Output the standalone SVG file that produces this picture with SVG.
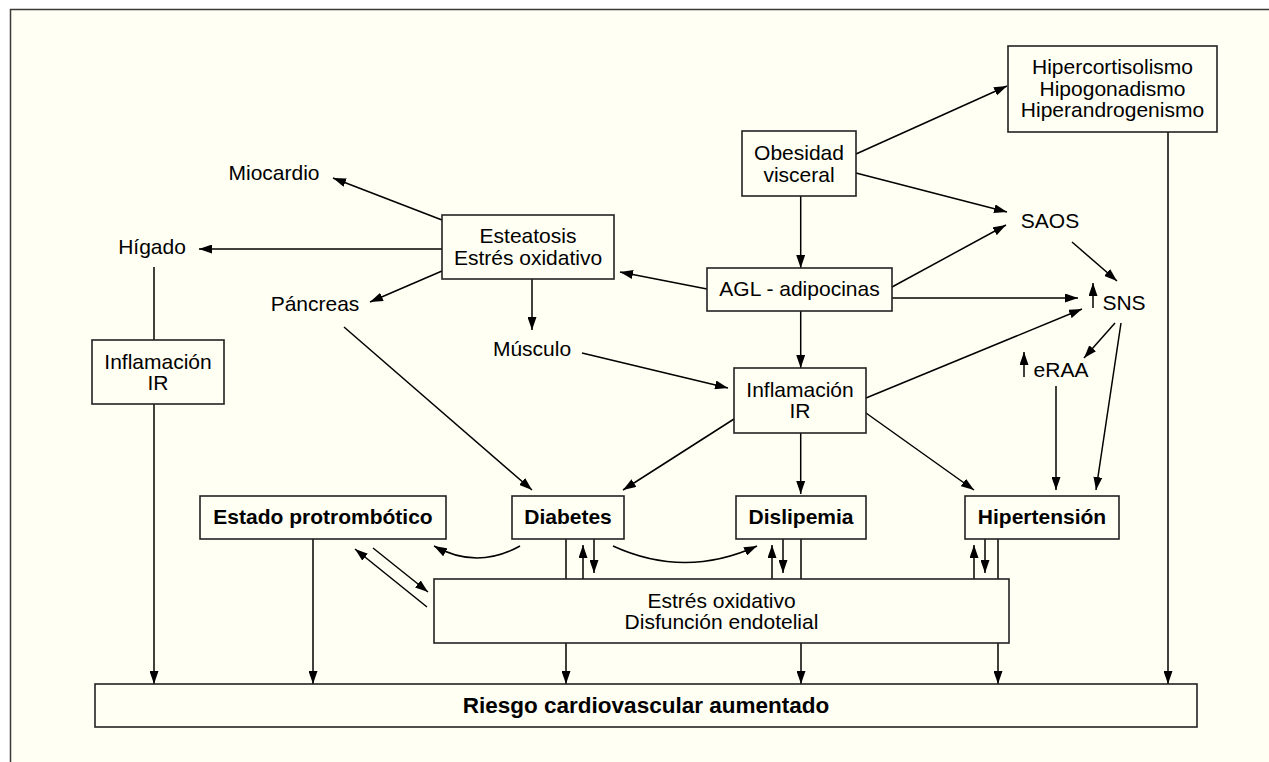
<svg xmlns="http://www.w3.org/2000/svg" width="1269" height="762" viewBox="0 0 1269 762">
<defs>
<marker id="ah" viewBox="0 0 13 9" refX="13" refY="4.5" markerWidth="13" markerHeight="9" orient="auto" markerUnits="userSpaceOnUse"><path d="M0,0 L13,4.5 L0,9 z" fill="#000"/></marker>
<style>
.t{font-family:"Liberation Sans",Arial,Helvetica,sans-serif;font-size:21px;fill:#000;text-anchor:middle}
.b{font-weight:bold}
.bx{fill:none;stroke:#222;stroke-width:1.6}
.c{fill:none;stroke:#000;stroke-width:1.5}
.a{marker-end:url(#ah)}
</style>
</defs>
<rect x="0" y="0" width="1269" height="762" fill="#fff"/>
<rect x="10.5" y="9.5" width="1300" height="800" fill="#FFFFF3" stroke="#3a3a3a" stroke-width="1.5"/>

<g id="connectors">
<path class="c a" d="M800.7,196 V268"/>
<path class="c a" d="M800.7,311 V368"/>
<path class="c a" d="M800.7,433 V494"/>
<path class="c a" d="M856,154 L1007,86"/>
<path class="c a" d="M856,173 L1007,212"/>
<path class="c a" d="M892,287 L1006,225"/>
<path class="c a" d="M892,298 L1078,298"/>
<path class="c a" d="M1072,242 L1117,281"/>
<path class="c a" d="M866,398 L1082,309"/>
<path class="c a" d="M1115,323 L1084,358"/>
<path class="c a" d="M1121,323 L1096,490"/>
<path class="c a" d="M1056,386 V490"/>
<path class="c a" d="M866,413 L974,490"/>
<path class="c a" d="M734,419 L623,490"/>
<path class="c a" d="M344,327 L532,490"/>
<path class="c a" d="M582,353 L728,388"/>
<path class="c a" d="M532,279 V330"/>
<path class="c a" d="M707,289 L620,272"/>
<path class="c a" d="M442,220 L333,178"/>
<path class="c a" d="M442,249 H199"/>
<path class="c a" d="M442,271 L370,302"/>
<path class="c" d="M154,267 V340"/>
<path class="c a" d="M154,404 V684"/>
<path class="c a" d="M313,539 V684"/>
<path class="c a" d="M1168,132 V684"/>
<path class="c" d="M566,539 V579"/>
<path class="c a" d="M566,643 V684"/>
<path class="c a" d="M583,579 V545"/>
<path class="c a" d="M594,539 V573"/>
<path class="c" d="M801,539 V579"/>
<path class="c a" d="M801,643 V684"/>
<path class="c a" d="M772,579 V545"/>
<path class="c a" d="M783,539 V573"/>
<path class="c" d="M998,539 V579"/>
<path class="c a" d="M998,643 V684"/>
<path class="c a" d="M974,579 V545"/>
<path class="c a" d="M985,539 V573"/>
<path class="c a" d="M520,546 Q477,570 434,546"/>
<path class="c a" d="M613,546 Q685,579 757,546"/>
<path class="c a" d="M427,607 L355,549"/>
<path class="c a" d="M373,548 L428,592"/>
</g>

<g id="obesidad"><rect class="bx" x="742" y="131" width="114" height="65"/><text class="t" x="799" y="160">Obesidad</text><text class="t" x="799" y="182">visceral</text></g>
<g id="hiper"><rect class="bx" x="1008" y="46" width="209" height="86"/><text class="t" x="1112.5" y="74">Hipercortisolismo</text><text class="t" x="1112.5" y="95.5">Hipogonadismo</text><text class="t" x="1112.5" y="117">Hiperandrogenismo</text></g>
<g id="esteatosis"><rect class="bx" x="442" y="215" width="172" height="64"/><text class="t" x="528" y="243">Esteatosis</text><text class="t" x="528" y="265">Estrés oxidativo</text></g>
<g id="agl"><rect class="bx" x="707" y="268" width="185" height="43"/><text class="t" x="799.5" y="296">AGL - adipocinas</text></g>
<g id="inflamacion"><rect class="bx" x="734" y="368" width="132" height="65"/><text class="t" x="800" y="397">Inflamación</text><text class="t" x="800" y="418">IR</text></g>
<g id="inflamacion-higado"><rect class="bx" x="92" y="340" width="132" height="64"/><text class="t" x="158" y="369">Inflamación</text><text class="t" x="158" y="390">IR</text></g>
<g id="miocardio"><text class="t" x="274" y="180">Miocardio</text></g>
<g id="higado"><text class="t" x="152" y="254">Hígado</text></g>
<g id="pancreas"><text class="t" x="315" y="311">Páncreas</text></g>
<g id="musculo"><text class="t" x="532" y="356">Músculo</text></g>
<g id="saos"><text class="t" x="1050" y="228">SAOS</text></g>
<g id="sns"><path class="c a" d="M1093,308 V283"/><text class="t" x="1124" y="310">SNS</text></g>
<g id="eraa"><path class="c a" d="M1024,377 V352"/><text class="t" x="1061" y="377">eRAA</text></g>
<g id="protrombotico"><rect class="bx" x="200" y="496" width="246" height="43"/><text class="t b" x="323" y="524">Estado protrombótico</text></g>
<g id="diabetes"><rect class="bx" x="512" y="496" width="112" height="43"/><text class="t b" x="568" y="524">Diabetes</text></g>
<g id="dislipemia"><rect class="bx" x="736" y="496" width="130" height="43"/><text class="t b" x="801" y="524">Dislipemia</text></g>
<g id="hipertension"><rect class="bx" x="965" y="496" width="154" height="43"/><text class="t b" x="1042" y="524">Hipertensión</text></g>
<g id="estres"><rect class="bx" x="434" y="579" width="575" height="64"/><text class="t" x="721.5" y="608">Estrés oxidativo</text><text class="t" x="721.5" y="629">Disfunción endotelial</text></g>
<g id="riesgo"><rect class="bx" x="95" y="684" width="1102" height="43"/><text class="t b" x="646" y="713" style="font-size:22.5px">Riesgo cardiovascular aumentado</text></g>
</svg>
